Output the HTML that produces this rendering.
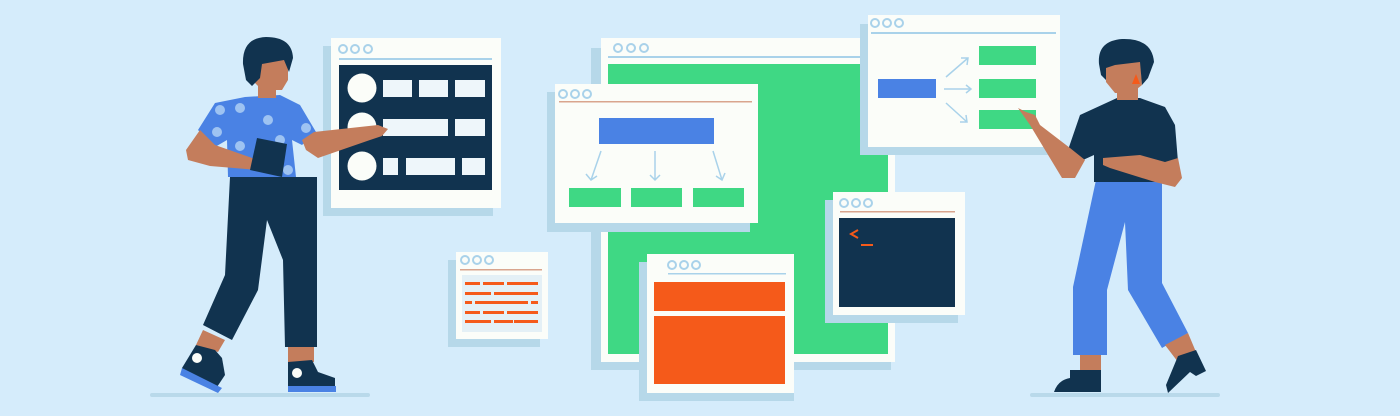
<!DOCTYPE html>
<html><head><meta charset="utf-8"><style>
html,body{margin:0;padding:0;background:#d5ecfb;}
svg{display:block}
</style></head><body>
<svg width="1400" height="416" viewBox="0 0 1400 416" xmlns="http://www.w3.org/2000/svg">
<rect width="1400" height="416" fill="#d5ecfb"/>
<rect x="150" y="393" width="220" height="4" rx="2" fill="#b9d9ea"/>
<rect x="1030" y="393" width="190" height="4" rx="2" fill="#b9d9ea"/>

<!-- Big back window -->
<rect x="591" y="48" width="300" height="322" fill="#b6d8e9"/>
<rect x="601" y="38" width="294" height="324" fill="#fbfdf9"/>
<g fill="none" stroke="#a9d2ea" stroke-width="2"><circle cx="618" cy="48" r="4"/><circle cx="631" cy="48" r="4"/><circle cx="644" cy="48" r="4"/></g>
<rect x="608" y="56" width="280" height="2" fill="#a9d2ea"/>
<rect x="608" y="64" width="280" height="290" fill="#3fd884"/>

<!-- Left window -->
<rect x="323" y="46" width="170" height="170" fill="#b6d8e9"/>
<rect x="331" y="38" width="170" height="170" fill="#fbfdf9"/>
<g fill="none" stroke="#a9d2ea" stroke-width="2"><circle cx="343" cy="49" r="4"/><circle cx="355" cy="49" r="4"/><circle cx="368" cy="49" r="4"/></g>
<rect x="339" y="58" width="153" height="2" fill="#a9d2ea"/>
<rect x="339" y="65" width="153" height="125" fill="#11334f"/>
<g fill="#fbfdf9"><circle cx="362" cy="88" r="14.5"/><circle cx="362" cy="127" r="14.5"/><circle cx="362" cy="166" r="14.5"/></g>
<g fill="#eef6fa">
<rect x="383" y="80" width="29" height="17"/><rect x="419" y="80" width="29" height="17"/><rect x="455" y="80" width="30" height="17"/>
<rect x="383" y="119" width="65" height="17"/><rect x="455" y="119" width="30" height="17"/>
<rect x="383" y="158" width="15" height="17"/><rect x="406" y="158" width="49" height="17"/><rect x="462" y="158" width="23" height="17"/>
</g>

<!-- Flow window -->
<rect x="547" y="92" width="203" height="140" fill="#b6d8e9"/>
<rect x="555" y="84" width="203" height="139" fill="#fbfdf9"/>
<g fill="none" stroke="#a9d2ea" stroke-width="2"><circle cx="563" cy="94" r="4"/><circle cx="575" cy="94" r="4"/><circle cx="587" cy="94" r="4"/></g>
<rect x="559" y="101" width="193" height="1.5" fill="#d9a58e"/>
<rect x="599" y="118" width="115" height="26" fill="#4a82e4"/>
<g stroke="#a9d2ea" stroke-width="1.5" fill="none">
<path d="M601 151 L591 180 M586 174 L591 180 L597 176"/>
<path d="M655 151 L655 180 M650 175 L655 180 L660 175"/>
<path d="M713 151 L722 180 M716 176 L722 180 L725 173"/>
</g>
<g fill="#3fd884"><rect x="569" y="188" width="52" height="19"/><rect x="631" y="188" width="51" height="19"/><rect x="693" y="188" width="51" height="19"/></g>

<!-- Right top window -->
<rect x="860" y="24" width="200" height="131" fill="#b6d8e9"/>
<rect x="868" y="15" width="192" height="132" fill="#fbfdf9"/>
<g fill="none" stroke="#a9d2ea" stroke-width="2"><circle cx="875" cy="23" r="4"/><circle cx="887" cy="23" r="4"/><circle cx="899" cy="23" r="4"/></g>
<rect x="871" y="32" width="185" height="2" fill="#a9d2ea"/>
<rect x="878" y="79" width="58" height="19" fill="#4a82e4"/>
<g stroke="#a9d2ea" stroke-width="1.5" fill="none">
<path d="M946 77 L968 58 M961 58 L968 58 L967 65"/>
<path d="M944 89 L971 89 M966 85 L971 89 L966 93"/>
<path d="M946 103 L967 122 M966 115 L967 122 L960 122"/>
</g>
<g fill="#3fd884"><rect x="979" y="46" width="57" height="19"/><rect x="979" y="79" width="57" height="19"/><rect x="979" y="110" width="57" height="19"/></g>

<!-- Terminal window -->
<rect x="825" y="200" width="133" height="123" fill="#b6d8e9"/>
<rect x="833" y="192" width="132" height="123" fill="#fbfdf9"/>
<g fill="none" stroke="#a9d2ea" stroke-width="2"><circle cx="844" cy="203" r="4"/><circle cx="856" cy="203" r="4"/><circle cx="868" cy="203" r="4"/></g>
<rect x="840" y="211" width="115" height="1.5" fill="#d9a58e"/>
<rect x="839" y="218" width="116" height="89" fill="#11334f"/>
<path d="M858 230 L851 234 L858 238" stroke="#f55a1a" stroke-width="2" fill="none"/>
<rect x="861" y="244" width="12" height="2" fill="#f55a1a"/>

<!-- Small code window -->
<rect x="448" y="260" width="92" height="87" fill="#b6d8e9"/>
<rect x="456" y="252" width="92" height="87" fill="#fbfdf9"/>
<g fill="none" stroke="#a9d2ea" stroke-width="2"><circle cx="465" cy="260" r="4"/><circle cx="477" cy="260" r="4"/><circle cx="489" cy="260" r="4"/></g>
<rect x="460" y="269" width="82" height="1.5" fill="#d9a58e"/>
<rect x="462" y="275" width="80" height="57" fill="#e4f0f6"/>
<g fill="#f55a1a">
<rect x="465" y="282" width="15" height="3"/><rect x="483" y="282" width="21" height="3"/><rect x="507" y="282" width="31" height="3"/>
<rect x="465" y="292" width="26" height="3"/><rect x="494" y="292" width="44" height="3"/>
<rect x="465" y="301" width="7" height="3"/><rect x="475" y="301" width="53" height="3"/><rect x="531" y="301" width="7" height="3"/>
<rect x="465" y="311" width="15" height="3"/><rect x="483" y="311" width="21" height="3"/><rect x="507" y="311" width="31" height="3"/>
<rect x="465" y="320" width="26" height="3"/><rect x="494" y="320" width="19" height="3"/><rect x="514" y="320" width="24" height="3"/>
</g>

<!-- Orange window -->
<rect x="639" y="262" width="155" height="139" fill="#b6d8e9"/>
<rect x="647" y="254" width="147" height="139" fill="#fbfdf9"/>
<g fill="none" stroke="#a9d2ea" stroke-width="2"><circle cx="672" cy="265" r="4"/><circle cx="684" cy="265" r="4"/><circle cx="696" cy="265" r="4"/></g>
<rect x="668" y="273" width="118" height="1.5" fill="#a9d2ea"/>
<rect x="654" y="282" width="131" height="29" fill="#f55a1a"/>
<rect x="654" y="316" width="131" height="68" fill="#f55a1a"/>

<!-- Left person -->
<g>
<path d="M230 177 L317 177 L317 347 L285 347 L283 260 L267 220 L258 290 L232 340 L203 325 L225 275 Z" fill="#11334f"/>
<rect x="288" y="347" width="26" height="15" fill="#c47d5c"/>
<path d="M203 330 L225 340 L218 352 L196 345 Z" fill="#c47d5c"/>
<path d="M196 345 L215 350 L222 358 L225 375 L215 390 L185 375 L182 368 Z" fill="#11334f"/>
<path d="M182 368 L222 388 L218 393 L180 375 Z" fill="#4a82e4"/>
<path d="M288 362 L312 360 L318 372 L335 378 L335 388 L288 388 Z" fill="#11334f"/>
<rect x="288" y="386" width="48" height="6" fill="#4a82e4"/>
<circle cx="197" cy="358" r="5" fill="#fbfdf9"/><circle cx="297" cy="373" r="5" fill="#fbfdf9"/>
<path d="M245 97 L280 95 L300 105 L316 132 L302 145 L292 140 L296 177 L228 177 L227 140 L215 147 L198 130 L215 103 Z" fill="#4a82e4"/>
<g fill="#9ec3f2"><circle cx="220" cy="110" r="5"/><circle cx="240" cy="108" r="5"/><circle cx="268" cy="120" r="5"/><circle cx="217" cy="132" r="5"/><circle cx="240" cy="146" r="5"/><circle cx="280" cy="140" r="5"/><circle cx="306" cy="128" r="5"/><circle cx="288" cy="170" r="5"/></g>
<path d="M302 140 L314 132 L378 125 L388 129 L382 136 L370 140 L318 158 L306 150 Z" fill="#c47d5c"/>
<path d="M200 130 L215 145 L258 160 L262 165 L258 170 L210 166 L188 160 L186 150 Z" fill="#c47d5c"/>
<path d="M257 138 L287 144 L282 177 L250 170 Z" fill="#11334f"/>
<rect x="258" y="85" width="18" height="13" fill="#c47d5c"/>
<path d="M252 60 L288 58 L288 80 L282 90 L262 90 L254 82 Z" fill="#c47d5c"/>
<path d="M243 64 Q242 38 266 37 Q292 37 293 58 L289 72 L284 60 L262 64 L260 78 L252 86 L246 80 Z" fill="#11334f"/>
</g>

<!-- Right person -->
<g>
<path d="M1096 180 L1162 180 L1162 283 L1188 333 L1162 348 L1128 290 L1125 222 L1107 290 L1107 355 L1073 355 L1073 287 Z" fill="#4a82e4"/>
<rect x="1080" y="355" width="21" height="15" fill="#c47d5c"/>
<path d="M1165 345 L1188 333 L1196 352 L1178 362 Z" fill="#c47d5c"/>
<path d="M1070 370 L1101 370 L1101 392 L1054 392 Q1058 380 1070 378 Z" fill="#11334f"/>
<path d="M1178 356 L1196 350 L1206 371 L1196 376 L1190 372 L1168 393 L1166 385 Z" fill="#11334f"/>
<path d="M1117 98 L1140 98 L1165 107 L1175 125 L1178 162 L1162 162 L1162 182 L1094 182 L1094 155 L1083 160 L1068 150 L1080 115 Z" fill="#11334f"/>
<path d="M1070 148 L1085 160 L1075 178 L1062 178 L1030 125 L1018 108 L1026 112 L1035 115 L1040 125 Z" fill="#c47d5c"/>
<path d="M1103 158 L1140 155 L1165 162 L1178 158 L1182 178 L1175 187 L1155 182 L1110 168 L1103 165 Z" fill="#c47d5c"/>
<rect x="1117" y="88" width="21" height="12" fill="#c47d5c"/>
<path d="M1105 58 L1140 56 L1142 85 L1132 93 L1115 93 L1106 82 Z" fill="#c47d5c"/>
<path d="M1099 64 Q1097 41 1122 39 Q1152 38 1154 62 L1148 78 L1142 85 L1140 62 L1115 65 L1106 68 L1106 80 L1101 75 Z" fill="#11334f"/>
<path d="M1136 74 L1140 84 L1132 84 Z" fill="#f55a1a"/>
</g>
</svg>
</body></html>
